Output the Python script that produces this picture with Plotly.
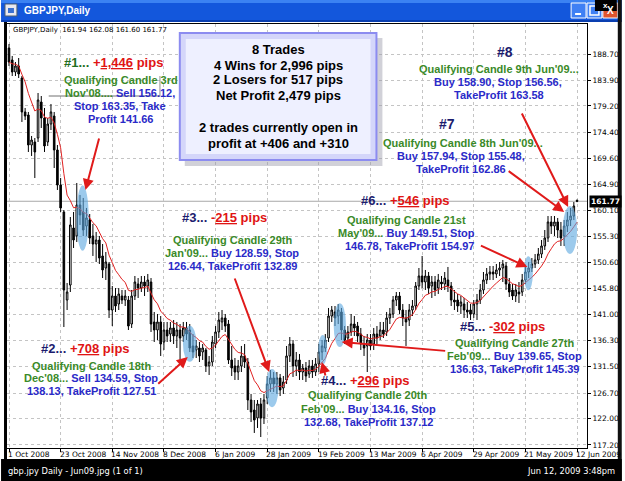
import plotly.graph_objects as go
import pandas as pd

# ---------------- data (GBPJPY daily bars) ----------------
opens = [189.80, 187.61, 185.41, 186.51, 184.31, 178.10, 177.55, 172.06, 172.61, 173.34,
         179.92, 177.00, 172.61, 175.90, 177.36, 171.15, 164.74, 159.81, 143.71, 146.45,
         156.88, 155.42, 161.09, 159.81, 157.24, 158.34, 155.42, 153.95, 154.68, 151.76,
         149.56, 150.30, 141.88, 144.44, 142.98, 144.44, 143.71, 143.71, 139.32, 144.44,
         146.64, 145.90, 147.00, 146.27, 147.00, 139.69, 138.22, 139.69, 136.03, 138.22,
         137.49, 138.59, 137.13, 138.22, 137.13, 138.59, 138.22, 135.30, 134.57, 134.93,
         134.20, 134.57, 131.64, 132.37, 135.66, 137.86, 139.69, 140.42, 139.32, 132.74,
         131.64, 130.54, 131.64, 133.47, 132.37, 125.42, 123.59, 122.13, 124.69, 122.13,
         125.79, 128.35, 129.45, 128.35, 129.45, 127.62, 129.08, 133.47, 135.66, 131.64,
         132.74, 130.54, 131.27, 130.18, 131.64, 130.54, 132.01, 134.20, 134.93, 136.76,
         140.78, 141.52, 140.78, 141.52, 138.22, 136.76, 137.86, 139.32, 138.95, 137.49,
         135.66, 135.30, 136.39, 135.66, 137.49, 137.13, 138.22, 137.86, 140.42, 141.15,
         143.71, 144.44, 141.88, 140.42, 140.05, 141.88, 142.61, 146.27, 148.10, 147.00,
         148.10, 146.27, 147.00, 145.90, 147.00, 146.64, 147.37, 146.27, 143.71, 143.71,
         142.61, 142.98, 141.88, 141.88, 141.15, 142.98, 143.71, 145.54, 147.37, 148.47,
         148.83, 148.47, 149.20, 149.56, 149.93, 146.64, 145.54, 144.44, 145.17, 145.17,
         147.37, 148.83, 149.56, 150.30, 151.03, 152.12, 153.59, 155.05, 157.98, 157.24,
         157.98, 156.51, 155.42, 157.24, 158.34, 159.07, 161.94]
highs = [190.53, 188.34, 187.24, 187.97, 184.68, 178.83, 178.10, 173.71, 173.34, 181.57,
         181.02, 178.83, 177.00, 179.56, 178.10, 172.06, 166.02, 160.17, 146.82, 158.89,
         159.81, 165.11, 162.92, 162.37, 160.54, 159.44, 157.61, 156.15, 155.42, 153.95,
         152.49, 150.66, 146.27, 145.90, 145.90, 145.54, 145.54, 144.44, 145.54, 148.10,
         147.73, 148.10, 148.10, 148.47, 147.73, 141.52, 141.15, 140.78, 139.69, 139.69,
         139.69, 140.05, 139.69, 139.32, 139.69, 139.69, 139.32, 137.49, 136.39, 136.03,
         135.66, 134.93, 133.47, 137.13, 138.95, 141.52, 141.88, 141.15, 140.05, 135.30,
         133.10, 132.74, 135.30, 135.66, 133.10, 126.52, 125.42, 125.42, 125.79, 126.52,
         129.81, 130.91, 130.54, 130.54, 130.18, 129.81, 135.30, 136.94, 136.39, 134.20,
         133.83, 132.01, 132.37, 132.74, 132.74, 133.10, 135.66, 136.39, 137.49, 142.25,
         142.61, 142.61, 142.98, 142.25, 138.95, 138.95, 141.15, 140.78, 139.69, 138.59,
         137.13, 137.49, 137.49, 138.59, 138.95, 139.69, 139.69, 141.52, 142.25, 144.44,
         145.17, 145.17, 142.98, 141.88, 142.98, 143.71, 147.00, 149.56, 151.76, 149.20,
         148.83, 148.10, 148.10, 148.47, 148.10, 148.83, 149.75, 147.00, 145.54, 144.81,
         144.44, 144.08, 143.34, 142.98, 143.71, 144.81, 146.64, 148.83, 149.56, 149.93,
         149.93, 150.30, 150.66, 151.03, 150.66, 147.73, 146.64, 146.64, 147.00, 148.47,
         149.93, 150.66, 151.39, 152.12, 153.22, 154.68, 156.51, 159.07, 159.07, 159.07,
         158.71, 157.98, 158.34, 159.81, 160.54, 161.63, 162.08]
lows = [186.51, 184.68, 184.68, 184.31, 176.27, 176.63, 170.78, 170.05, 166.02, 172.61,
        175.17, 170.78, 171.88, 174.80, 167.85, 163.83, 159.81, 138.77, 141.88, 145.17,
        153.22, 154.32, 157.43, 155.42, 155.42, 153.95, 151.76, 150.66, 150.30, 147.73,
        147.37, 140.42, 138.95, 141.52, 141.88, 142.98, 142.61, 138.22, 138.59, 143.71,
        144.08, 145.17, 144.44, 145.17, 137.86, 136.03, 136.39, 133.47, 134.57, 136.03,
        136.03, 135.66, 134.93, 132.74, 136.03, 136.39, 134.20, 133.10, 133.10, 132.37,
        132.74, 130.54, 129.99, 131.64, 134.93, 136.76, 138.22, 137.86, 132.01, 129.81,
        129.08, 129.08, 130.54, 131.27, 123.59, 121.40, 119.39, 120.30, 118.65, 121.03,
        124.69, 126.89, 126.89, 126.52, 126.15, 126.52, 128.35, 132.37, 129.63, 129.81,
        129.08, 129.08, 128.71, 129.45, 129.45, 129.81, 130.54, 132.74, 134.20, 136.03,
        139.69, 138.95, 139.32, 136.39, 135.66, 135.66, 137.13, 137.13, 136.03, 134.57,
        133.47, 130.54, 134.57, 134.57, 135.66, 136.39, 136.76, 137.13, 139.32, 140.42,
        142.61, 141.15, 138.95, 135.30, 138.95, 140.78, 141.88, 145.54, 145.90, 145.54,
        144.81, 144.08, 144.44, 144.81, 145.54, 145.54, 145.17, 142.61, 141.88, 141.52,
        141.15, 140.42, 140.42, 140.05, 140.42, 140.05, 142.98, 144.81, 146.64, 147.37,
        147.37, 147.73, 148.10, 147.00, 145.54, 144.26, 143.71, 143.34, 143.16, 144.44,
        146.64, 147.73, 148.83, 149.56, 150.30, 151.39, 152.86, 154.32, 155.78, 155.42,
        155.05, 153.59, 153.59, 156.15, 157.24, 158.34, 161.60]
closes = [187.24, 185.41, 186.51, 185.05, 178.10, 177.36, 172.06, 172.97, 170.78, 180.29,
          177.00, 171.88, 175.90, 178.10, 171.15, 164.74, 160.54, 145.54, 145.17, 157.43,
          154.68, 161.09, 159.26, 156.51, 158.71, 155.05, 153.95, 154.68, 151.39, 149.20,
          150.66, 141.88, 144.44, 142.61, 144.81, 143.71, 144.44, 138.95, 144.44, 147.00,
          145.90, 147.00, 146.27, 147.37, 139.32, 138.22, 139.69, 135.66, 138.22, 137.13,
          138.59, 137.13, 138.22, 136.76, 138.59, 137.49, 134.93, 134.20, 135.30, 133.47,
          134.93, 131.64, 132.37, 136.03, 137.86, 140.05, 140.42, 138.95, 132.74, 131.27,
          130.54, 131.64, 133.47, 132.37, 125.42, 123.23, 121.76, 124.69, 122.13, 125.42,
          128.35, 129.45, 128.35, 129.45, 127.25, 128.71, 133.47, 135.66, 131.64, 132.74,
          130.54, 131.27, 129.81, 131.64, 130.54, 132.01, 134.20, 135.30, 136.39, 140.78,
          141.88, 140.42, 141.88, 138.22, 136.39, 137.86, 139.32, 138.59, 137.13, 135.66,
          134.93, 136.39, 135.30, 137.49, 136.76, 138.22, 137.49, 140.42, 141.15, 143.71,
          144.44, 141.88, 140.42, 139.69, 141.88, 142.61, 146.27, 148.10, 147.00, 148.10,
          145.90, 147.00, 145.54, 147.37, 146.64, 147.73, 146.27, 143.71, 143.34, 142.61,
          143.34, 141.88, 141.52, 141.15, 142.98, 143.71, 145.54, 147.37, 148.47, 148.83,
          148.47, 149.20, 149.56, 150.30, 146.64, 145.17, 144.44, 145.54, 144.81, 147.37,
          148.83, 149.56, 150.30, 151.03, 152.12, 153.59, 155.05, 157.98, 157.24, 157.98,
          156.51, 155.05, 157.24, 158.34, 159.07, 160.90, 161.77]
bar_index = list(range(len(closes)))

date_tick_idx = [0, 16, 32, 48, 64, 80, 96, 112, 128, 144, 160, 176]
date_tick_text = ["1 Oct 2008", "23 Oct 2008", "14 Nov 2008", "8 Dec 2008", "6 Jan 2009",
                  "28 Jan 2009", "19 Feb 2009", "13 Mar 2009", "6 Apr 2009", "29 Apr 2009",
                  "21 May 2009", "12 Jun 2009"]
price_tick_text = ["188.70", "183.90", "179.20", "174.40", "169.60", "164.90", "160.10", "155.30",
                   "150.60", "145.80", "141.00", "136.30", "131.50", "126.70", "122.00", "117.20"]
price_ticks = [float(t) for t in price_tick_text]
bid_price = 161.77

# highlighted qualifying candles: (bar centre, price centre, half width in bars, half height in price)
highlights = [(22.8, 158.7, 1.9, 6.0), (56.0, 135.7, 2.1, 3.3), (81.5, 127.6, 2.0, 3.5),
              (97.2, 134.6, 1.4, 2.7), (102.5, 139.1, 1.9, 4.0), (160.9, 148.6, 1.4, 3.1),
              (173.8, 156.5, 2.2, 4.4)]

# moving average indicator computed from the closes
ma = pd.Series(closes).ewm(span=10, adjust=False).mean().round(2).tolist()

# ---------------- geometry ----------------
W, H = 625, 481
ML, MR, MT, MB = 6, 35, 24, 33
PW, PH = W - ML - MR, H - MT - MB
PLOT_BOTTOM = H - MB


def px(x):
    return (x - ML) / PW


def py(y):
    return (PLOT_BOTTOM - y) / PH


FONT = "Liberation Sans, Arial, sans-serif"
SMALL = "DejaVu Sans, Tahoma, sans-serif"
GREEN = "#3a8a28"
DKGREEN = "#1f6e1f"
BLUE = "#2a2ac8"
RED = "#e01414"
NAVY = "#1c1c6e"


def c(color, s):
    return f'<span style="color:{color}">{s}</span>'


def txt(x, y, s, size=11, color="black", xanchor="center", family=FONT, bold=True):
    return dict(xref="paper", yref="paper", x=px(x), y=py(y), text=(f"<b>{s}</b>" if bold else s),
                showarrow=False, xanchor=xanchor, yanchor="middle",
                font=dict(size=size, color=color, family=family))


def rect(x0, y0, x1, y1, fill, line=None, lw=0, layer="above", opacity=1):
    return dict(type="rect", xref="paper", yref="paper", x0=px(x0), x1=px(x1), y0=py(y1), y1=py(y0),
                fillcolor=fill, line=dict(color=line or fill, width=lw), layer=layer, opacity=opacity)


def seg(x0, y0, x1, y1, color, lw=1):
    return dict(type="line", xref="paper", yref="paper", x0=px(x0), x1=px(x1), y0=py(y0), y1=py(y1),
                line=dict(color=color, width=lw), layer="above")


def arrow(tx, ty, hx, hy):
    return dict(xref="paper", yref="paper", x=px(hx), y=py(hy), ax=tx - hx, ay=ty - hy,
                axref="pixel", ayref="pixel", text="", showarrow=True, arrowhead=2,
                arrowsize=1.1, arrowwidth=2, arrowcolor="#e01a1a", standoff=0)


# ---------------- traces ----------------
fig = go.Figure()
fig.add_trace(go.Candlestick(
    x=bar_index, open=opens, high=highs, low=lows, close=closes,
    increasing=dict(line=dict(color="black", width=1), fillcolor="white"),
    decreasing=dict(line=dict(color="black", width=1), fillcolor="black"),
    whiskerwidth=0, showlegend=False, hoverinfo="skip"))
fig.add_trace(go.Scatter(x=bar_index, y=ma, mode="lines", line=dict(color="#e02222", width=1),
                         showlegend=False, hoverinfo="skip"))

shapes = []
# bid line
shapes.append(dict(type="line", xref="paper", yref="y", x0=0, x1=1, y0=bid_price, y1=bid_price,
                   line=dict(color="#a8a8a8", width=1), layer="below"))
# highlight ellipses
for bx, bp, hw, hh in highlights:
    shapes.append(dict(type="circle", xref="x", yref="y", x0=bx - hw, x1=bx + hw, y0=bp - hh, y1=bp + hh,
                       fillcolor="rgba(95,170,225,0.62)", line=dict(width=0), layer="above"))
# gray guide lines near trade #1 text
shapes.append(seg(48, 96, 160, 96, "#707070"))
shapes.append(seg(160, 76, 160, 96, "#909090"))
# summary box with shadow
shapes.append(rect(185, 38, 384, 166, "#9a9aa8", layer="above", opacity=0.45))
shapes.append(rect(180, 33, 378, 160, "#d4d6fa", "#8c8cf0", 2))
shapes.append(rect(186, 39, 372, 154, "#eef0ff"))
# window chrome: title bar
shapes.append(rect(0, 0, 625, 20, "#1357dc"))
shapes.append(rect(0, 0, 625, 3, "#3b82f2"))
shapes.append(rect(0, 20, 625, 22, "#0a3fb0"))
shapes.append(rect(4, 4, 16, 16, "#e8e8f0", "#506070", 1))
shapes.append(rect(7, 8, 13, 13, "#3a70d0"))
shapes.append(rect(574, 3, 589, 18, "#3f80f4", "white", 1))
shapes.append(seg(578, 14, 584, 14, "white", 2))
shapes.append(rect(590, 3, 605, 18, "#3f80f4", "white", 1))
shapes.append(rect(593, 6, 602, 15, "#3f80f4", "white", 1.5))
shapes.append(rect(606, 3, 621, 18, "#e0552e", "white", 1))
shapes.append(rect(598, 0, 620, 11, "black"))
# frame borders
shapes.append(rect(3, 22, 6, 459, "black"))
shapes.append(rect(621, 0, 625, 481, "#101010"))
shapes.append(rect(0, 459, 625, 481, "black"))

annotations = []
# date labels of the time axis, left-aligned at their ticks as in MetaTrader
for idx, label in zip(date_tick_idx, date_tick_text):
    annotations.append(dict(xref="x", yref="paper", x=idx, y=py(454), xanchor="left", yanchor="middle",
                            xshift=-3, text=label, showarrow=False,
                            font=dict(size=7.5, color="black", family=SMALL)))

# summary box text
summary_lines = [(49, "8 Trades"), (65, "4 Wins for 2,996 pips"), (80, "2 Losers for 517 pips"),
                 (96, "Net Profit 2,479 pips"), (128, "2 trades currently open in"),
                 (143, "profit at +406 and +310")]
for yy, s in summary_lines:
    annotations.append(txt(279, yy, s, 13))

# trade #1
annotations += [
    txt(113, 63, c(DKGREEN, "#1...") + " " + c(RED, "+<u>1,446</u> pips"), 13),
    txt(121, 80, "Qualifying Candle 3rd", 11, GREEN),
    txt(120, 93, c(GREEN, "Nov'08....") + " " + c(BLUE, "Sell 156.12,")),
    txt(120, 106, "Stop 163.35, Take", 11, BLUE),
    txt(120, 119, "Profit 141.66", 11, BLUE),
]
# trade #2
annotations += [
    txt(85, 348, c(NAVY, "#2...") + " " + c(RED, "+<u>708</u> pips"), 13),
    txt(91, 366, "Qualifying Candle 18th", 11, GREEN),
    txt(91, 378, c(GREEN, "Dec'08...") + " " + c(BLUE, "Sell 134.59, Stop")),
    txt(91, 391, "138.13, TakeProfit 127.51", 11, BLUE),
]
# trade #3
annotations += [
    txt(225, 218, c(NAVY, "#3...") + " " + c(RED, "-<u>215</u> pips"), 13),
    txt(233, 240, "Qualifying Candle 29th", 11, GREEN),
    txt(233, 253, c(GREEN, "Jan'09...") + " " + c(BLUE, "Buy 128.59, Stop")),
    txt(233, 266, "126.44, TakeProfit 132.89", 11, BLUE),
]
# trade #4
annotations += [
    txt(367, 380, c(NAVY, "#4...") + " " + c(RED, "+<u>296</u> pips"), 13),
    txt(369, 395, "Qualifying Candle 20th", 11, GREEN),
    txt(370, 409, c(GREEN, "Feb'09...") + " " + c(BLUE, "Buy 134.16, Stop")),
    txt(370, 422, "132.68, TakeProfit 137.12", 11, BLUE),
]
# trade #5
annotations += [
    txt(505, 327, c(NAVY, "#5...") + " " + c(RED, "-<u>302</u> pips"), 13),
    txt(517, 343, "Qualifying Candle 27th", 11, GREEN),
    txt(517, 356, c(GREEN, "Feb'09...") + " " + c(BLUE, "Buy 139.65, Stop")),
    txt(517, 369, "136.63, TakeProfit 145.39", 11, BLUE),
]
# trade #6
annotations += [
    txt(407, 200, c(NAVY, "#6...") + " " + c(RED, "+<u>546</u> pips"), 13),
    txt(408, 220, "Qualifying Candle 21st", 11, GREEN),
    txt(408, 233, c(GREEN, "May'09...") + " " + c(BLUE, "Buy 149.51, Stop")),
    txt(411, 246, "146.78, TakeProfit 154.97", 11, BLUE),
]
# trade #7
annotations += [
    txt(449, 124, "#7", 14, NAVY),
    txt(465, 143, "Qualifying Candle 8th Jun'09...", 11, GREEN),
    txt(463, 156, "Buy 157.94, Stop 155.48,", 11, BLUE),
    txt(463, 169, "TakeProfit 162.86", 11, BLUE),
]
# trade #8
annotations += [
    txt(507, 52, "#8", 14, NAVY),
    txt(501, 69, "Qualifying Candle 9th Jun'09...", 11, GREEN),
    txt(500, 82, "Buy 158.90, Stop 156.56,", 11, BLUE),
    txt(501, 95, "TakeProfit 163.58", 11, BLUE),
]
# arrows (tail -> head, pixels)
annotations += [
    arrow(99, 137, 85, 190), arrow(157, 385, 188, 357), arrow(235, 277, 270, 372),
    arrow(327, 377, 323, 362), arrow(448, 351, 343, 342), arrow(482, 245, 530, 267),
    arrow(510, 170, 567, 212), arrow(524, 112, 571, 207),
]
# chart header, window title and caption
annotations += [
    txt(10, 30, "GBPJPY,Daily  161.94 162.08 161.60 161.77", 7, "black", "left", SMALL, bold=False),
    txt(21, 10, "GBPJPY,Daily", 10, "white", "left", FONT),
    txt(609, 5, "x", 8, "white", "center", FONT),
    txt(613.5, 10.5, "X", 10, "white", "center", FONT),
    txt(5, 471, "gbp.jpy Daily - Jun09.jpg (1 of 1)", 8.3, "white", "left", SMALL, bold=False),
    txt(620, 471, "Jun 12, 2009 3:48pm", 8.3, "white", "right", SMALL, bold=False),
]
# bid price label on the axis
annotations.append(dict(xref="paper", yref="y", x=1, y=bid_price, xanchor="left", yanchor="middle",
                        xshift=2, text="<b>161.77</b>", showarrow=False, bgcolor="black", borderpad=1,
                        font=dict(size=7.5, color="white", family=SMALL)))

fig.update_layout(
    width=W, height=H, margin=dict(l=ML, r=MR, t=MT, b=MB, pad=0),
    paper_bgcolor="white", plot_bgcolor="white", showlegend=False,
    shapes=shapes, annotations=annotations, hovermode=False,
    xaxis=dict(range=[-0.62, 179.08], tickvals=date_tick_idx, ticktext=date_tick_text,
               showticklabels=False,
               showgrid=True, gridcolor="#c4c4c4", griddash="dot", gridwidth=1,
               ticks="outside", ticklen=3, tickcolor="black", showline=True, linecolor="black",
               mirror=True, zeroline=False, rangeslider=dict(visible=False), fixedrange=True),
    yaxis=dict(range=[116.64, 194.19], side="right", tickvals=price_ticks, ticktext=price_tick_text,
               showgrid=True, gridcolor="#c4c4c4", griddash="dot", gridwidth=1,
               ticks="outside", ticklen=3, tickcolor="black", showline=True, linecolor="black",
               mirror=True, zeroline=False, tickfont=dict(size=7.5, color="black", family=SMALL),
               fixedrange=True),
)

fig.write_html("out.html")
